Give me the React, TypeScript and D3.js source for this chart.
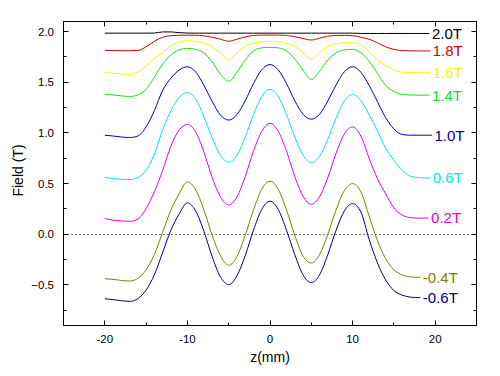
import React from "react";
import * as d3 from "d3";

// z grid in mm: -20, -19, ..., 19
const Z_START = -20;

const LABELS = ["2.0T", "1.8T", "1.6T", "1.4T", "1.0T", "0.6T", "0.2T", "-0.4T", "-0.6T"];
const COLORS = ["#000000", "#d40000", "#f5f500", "#1edc1e", "#0000b4", "#00e8e8", "#e600e6", "#808000", "#000070"];
const END_Z = [19.3, 19.4, 19.4, 19.3, 19.6, 19.4, 19.2, 18.2, 18.2];

const F20 = [1.985, 1.985, 1.985, 1.985, 1.985, 1.985, 1.986, 1.997, 1.997, 1.99,
  1.986, 1.985, 1.985, 1.985, 1.985, 1.985, 1.985, 1.985, 1.985, 1.985,
  1.985, 1.985, 1.985, 1.985, 1.985, 1.985, 1.985, 1.985, 1.985, 1.985,
  1.985, 1.982, 1.982, 1.982, 1.982, 1.982, 1.982, 1.982, 1.982, 1.982];
const F18 = [1.815, 1.813, 1.812, 1.812, 1.815, 1.85, 1.905, 1.945, 1.96, 1.964,
  1.965, 1.964, 1.958, 1.945, 1.925, 1.905, 1.925, 1.948, 1.962, 1.966,
  1.966, 1.966, 1.962, 1.95, 1.932, 1.917, 1.935, 1.955, 1.962, 1.963,
  1.96, 1.945, 1.925, 1.89, 1.85, 1.825, 1.813, 1.81, 1.81, 1.81];
const F16 = [1.598, 1.59, 1.582, 1.578, 1.604, 1.66, 1.735, 1.79, 1.86, 1.895,
  1.91, 1.905, 1.885, 1.85, 1.79, 1.72, 1.79, 1.855, 1.885, 1.9,
  1.902, 1.9, 1.885, 1.855, 1.795, 1.726, 1.795, 1.855, 1.88, 1.89,
  1.89, 1.875, 1.8, 1.72, 1.665, 1.625, 1.6, 1.596, 1.595, 1.595];
const F14 = [1.383, 1.375, 1.366, 1.36, 1.375, 1.43, 1.55, 1.68, 1.77, 1.82,
  1.835, 1.825, 1.79, 1.7, 1.58, 1.51, 1.6, 1.72, 1.81, 1.84,
  1.845, 1.84, 1.81, 1.73, 1.62, 1.528, 1.61, 1.72, 1.79, 1.82,
  1.825, 1.79, 1.71, 1.59, 1.47, 1.41, 1.38, 1.375, 1.373, 1.373];
const F10 = [0.978, 0.97, 0.96, 0.955, 0.97, 1.06, 1.22, 1.42, 1.54, 1.62,
  1.653, 1.603, 1.47, 1.31, 1.177, 1.127, 1.182, 1.318, 1.487, 1.623,
  1.675, 1.623, 1.487, 1.318, 1.185, 1.136, 1.185, 1.315, 1.474, 1.604,
  1.653, 1.6, 1.47, 1.31, 1.15, 1.04, 0.985, 0.978, 0.978, 0.978];
const F06 = [0.56, 0.55, 0.543, 0.54, 0.56, 0.632, 0.79, 1.03, 1.22, 1.35,
  1.4, 1.334, 1.162, 0.95, 0.778, 0.712, 0.78, 0.959, 1.18, 1.36,
  1.43, 1.36, 1.18, 0.959, 0.78, 0.705, 0.77, 0.938, 1.147, 1.315,
  1.38, 1.32, 1.18, 1.02, 0.85, 0.73, 0.63, 0.573, 0.56, 0.556];
const F02 = [0.155, 0.14, 0.132, 0.128, 0.15, 0.254, 0.42, 0.63, 0.87, 1.03,
  1.084, 1.01, 0.81, 0.56, 0.37, 0.29, 0.37, 0.57, 0.82, 1.017,
  1.094, 1.017, 0.82, 0.57, 0.375, 0.296, 0.37, 0.56, 0.8, 0.99,
  1.06, 0.97, 0.75, 0.55, 0.4, 0.26, 0.19, 0.165, 0.16, 0.16];
const FM04 = [-0.438, -0.445, -0.455, -0.461, -0.435, -0.35, -0.2, 0.02, 0.24, 0.4,
  0.517, 0.44, 0.24, -0.01, -0.21, -0.306, -0.22, -0.01, 0.24, 0.445,
  0.524, 0.445, 0.24, -0.01, -0.215, -0.283, -0.2, 0.0, 0.24, 0.43,
  0.5, 0.42, 0.18, -0.06, -0.24, -0.35, -0.4, -0.42, -0.425];
const FM06 = [-0.636, -0.645, -0.655, -0.662, -0.635, -0.55, -0.4, -0.18, 0.04, 0.2,
  0.31, 0.23, 0.03, -0.22, -0.42, -0.497, -0.41, -0.21, 0.04, 0.245,
  0.326, 0.245, 0.04, -0.2, -0.4, -0.477, -0.4, -0.2, 0.04, 0.23,
  0.303, 0.22, -0.05, -0.28, -0.45, -0.555, -0.6, -0.62, -0.625];

const SERIES = [F20, F18, F16, F14, F10, F06, F02, FM04, FM06];

const X_MAJOR = [-20, -10, 0, 10, 20];
const X_MINOR = [-15, -5, 5, 15];
const Y_MAJOR = [-0.5, 0, 0.5, 1, 1.5, 2];
const Y_MINOR = [-0.75, -0.25, 0.25, 0.75, 1.25, 1.75];

const W = 500;
const H = 376;
const LEFT = 63.5;
const RIGHT = 476.5;
const TOP = 21.5;
const BOTTOM = 325.5;
const FONT = "'Liberation Sans', Arial, sans-serif";

const crisp = (v: number) => Math.round(v - 0.5) + 0.5;

export default function App() {
  const x = d3.scaleLinear().domain([-25, 25]).range([LEFT, RIGHT]);
  const y = d3.scaleLinear().domain([-0.9, 2.1]).range([BOTTOM, TOP]);
  const line = d3
    .line<[number, number]>()
    .x((d) => x(d[0]))
    .y((d) => y(d[1]))
    .curve(d3.curveMonotoneX);

  const MAJ = 5;
  const MIN = 3;
  const y0 = crisp(y(0));

  return (
    <svg
      width={W}
      height={H}
      style={{ position: "absolute", left: 0, top: 0, background: "#fff" }}
    >
      <rect x={0} y={0} width={W} height={H} fill="#fff" />
      {/* zero reference line */}
      <line
        x1={LEFT}
        x2={RIGHT}
        y1={y0}
        y2={y0}
        stroke="#000"
        strokeWidth={1}
        strokeDasharray="1,3"
      />
      {SERIES.map((vals, i) => {
        const pts: [number, number][] = vals.map((v, k) => [Z_START + k, v]);
        const last = pts[pts.length - 1];
        pts.push([END_Z[i], last[1]]);
        const lx = x(END_Z[i]) + 2.5;
        const ly = y(last[1]);
        return (
          <g key={i}>
            <path d={line(pts) || ""} fill="none" stroke={COLORS[i]} strokeWidth={1} />
            <text
              x={lx}
              y={ly}
              dy="0.36em"
              fontFamily={FONT}
              fontSize={15}
              fill={COLORS[i]}
            >
              {LABELS[i]}
            </text>
          </g>
        );
      })}
      {/* frame */}
      <rect
        x={LEFT}
        y={TOP}
        width={RIGHT - LEFT}
        height={BOTTOM - TOP}
        fill="none"
        stroke="#000"
        strokeWidth={1}
      />
      {/* x ticks bottom and top */}
      {X_MAJOR.map((t) => (
        <g key={"xm" + t}>
          <line x1={crisp(x(t))} x2={crisp(x(t))} y1={BOTTOM} y2={BOTTOM - MAJ} stroke="#000" />
          <line x1={crisp(x(t))} x2={crisp(x(t))} y1={TOP} y2={TOP + MAJ} stroke="#000" />
          <text
            x={x(t)}
            y={BOTTOM + 17}
            textAnchor="middle"
            fontFamily={FONT}
            fontSize={11.5}
            fill="#000"
          >
            {t}
          </text>
        </g>
      ))}
      {X_MINOR.map((t) => (
        <g key={"xn" + t}>
          <line x1={crisp(x(t))} x2={crisp(x(t))} y1={BOTTOM} y2={BOTTOM - MIN} stroke="#000" />
          <line x1={crisp(x(t))} x2={crisp(x(t))} y1={TOP} y2={TOP + MIN} stroke="#000" />
        </g>
      ))}
      {/* y ticks left and right */}
      {Y_MAJOR.map((t) => (
        <g key={"ym" + t}>
          <line x1={LEFT} x2={LEFT + MAJ} y1={crisp(y(t))} y2={crisp(y(t))} stroke="#000" />
          <line x1={RIGHT} x2={RIGHT - MAJ} y1={crisp(y(t))} y2={crisp(y(t))} stroke="#000" />
          <text
            x={LEFT - 9.5}
            y={y(t)}
            dy="0.36em"
            textAnchor="end"
            fontFamily={FONT}
            fontSize={11.5}
            fill="#000"
          >
            {d3.format(".1f")(t)}
          </text>
        </g>
      ))}
      {Y_MINOR.map((t) => (
        <g key={"yn" + t}>
          <line x1={LEFT} x2={LEFT + MIN} y1={crisp(y(t))} y2={crisp(y(t))} stroke="#000" />
          <line x1={RIGHT} x2={RIGHT - MIN} y1={crisp(y(t))} y2={crisp(y(t))} stroke="#000" />
        </g>
      ))}
      {/* axis titles */}
      <text
        transform={`translate(23, ${(TOP + BOTTOM) / 2 - 3}) rotate(-90)`}
        textAnchor="middle"
        fontFamily={FONT}
        fontSize={14}
        fill="#000"
      >
        Field (T)
      </text>
      <text
        x={(LEFT + RIGHT) / 2}
        y={362}
        textAnchor="middle"
        fontFamily={FONT}
        fontSize={14}
        fill="#000"
      >
        z(mm)
      </text>
    </svg>
  );
}
